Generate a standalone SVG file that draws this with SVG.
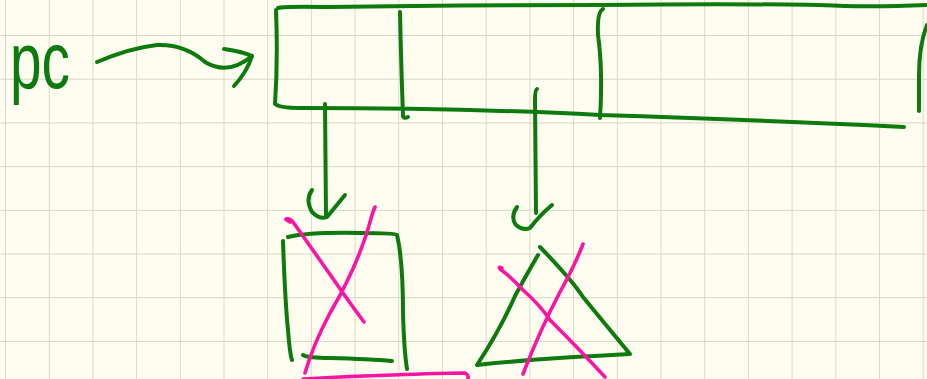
<svg xmlns="http://www.w3.org/2000/svg" width="927" height="379" viewBox="0 0 927 379">
<defs>
<style>
.grid{stroke:#d9d5c3;stroke-width:1.8;fill:none}
.g{stroke:#0d7a0d;stroke-width:4;fill:none;stroke-linecap:round;stroke-linejoin:round}
.p{stroke:#fc13a2;stroke-width:3.6;fill:none;stroke-linecap:round;stroke-linejoin:round}
.lbl{fill:#0d7a0d;font-family:"Liberation Sans","DejaVu Sans",sans-serif;font-size:80px}
</style>
<pattern id="grid" x="5" y="35" width="43.7" height="43.7" patternUnits="userSpaceOnUse">
<path class="grid" d="M0,0 V43.7 M0,0 H43.7"/>
</pattern>
</defs>
<rect width="927" height="379" fill="#fefdf0"/>
<rect width="927" height="379" fill="url(#grid)"/>
<g id="pc-label">
<text class="lbl" x="10" y="88" textLength="60" lengthAdjust="spacingAndGlyphs">pc</text>
</g>
<g id="array">
<path class="g" d="M278,8 Q284,6 330,7 Q440,5 600,5 Q760,3 845,6 Q880,7 927,5"/>
<path class="g" d="M276,10 Q278,60 275,104 Q280,108 300,108 Q470,108 600,115 Q760,120 904,127"/>
<path class="g" d="M400,12 Q401,60 403,116 Q404,119 408,117"/>
<path class="g" d="M603,9 Q597,12 598,35 Q603,70 600,118"/>
<path class="g" d="M927,25 Q919,45 919,75 L919,111"/>
</g>
<g id="square">
<path class="g" d="M288,237 Q310,232 360,233 Q395,233 397,235 Q403,260 403,313 Q404,350 407,369"/>
<path class="g" d="M283,241 Q285,300 288,330 Q290,355 292,360"/>
<path class="g" d="M303,355 Q308,358 330,358 Q370,359 392,361"/>
<path class="p" d="M290,222 Q285,219 286,219 Q290,218 293,222 Q320,260 343,293 Q355,310 364,322"/>
<path class="p" d="M375,207 Q373,212 372,215 Q360,262 330,313 Q313,345 305,373"/>
<path class="p" d="M303,379 Q350,376 393,375 Q440,373 465,373 Q469,375 468,379"/>
</g>
<g id="triangle">
<path class="g" d="M538,255 Q528,272 515,296 Q500,330 477,365 Q530,359 630,354 Q610,330 583,297 Q572,280 540,247"/>
<path class="p" d="M502,268 Q498,266 500,269 Q510,276 523,290 Q540,305 550,320 Q580,350 605,377"/>
<path class="p" d="M583,244 Q575,265 560,292 Q540,330 523,374"/>
</g>
<g id="connectors">
<path class="g" d="M97,62 Q130,48 157,45 Q185,44 205,62 Q228,76 252,56"/>
<path class="g" d="M224,49 Q244,52 252,56 Q247,72 234,86"/>
<path class="g" d="M325,104 L326,215"/>
<path class="g" d="M312,190 Q305,200 312,212 Q320,220 327,217 Q336,206 345,195"/>
<path class="g" d="M537,89 Q535,90 535,100 L536,213"/>
<path class="g" d="M517,207 Q510,217 516,225 Q523,231 530,228 Q540,215 552,205"/>
</g>
</svg>
